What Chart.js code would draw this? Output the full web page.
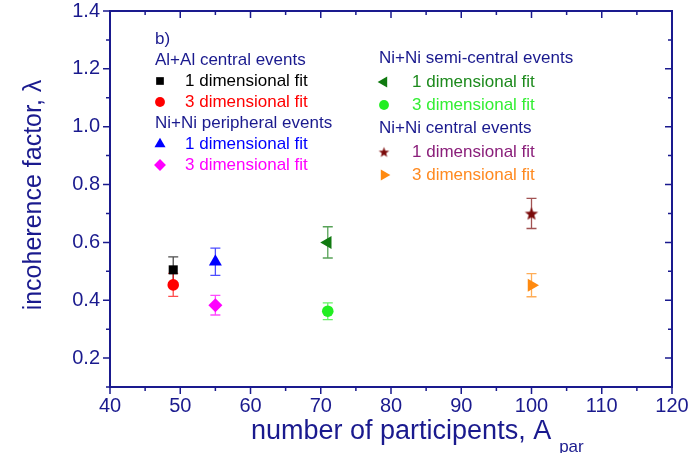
<!DOCTYPE html>
<html>
<head>
<meta charset="utf-8">
<script src="https://cdn.jsdelivr.net/npm/chart.js@4.4.0/dist/chart.umd.min.js"></script>
<style>
  html, body { margin: 0; padding: 0; background: #fff; }
  #wrap { width: 688px; height: 453px; }
</style>
</head>
<body>
<div id="wrap"><canvas id="lambdaChart" width="688" height="453"></canvas></div>
<script>
// data
const groupNames = ['Al+Al central events', 'Ni+Ni peripheral events', 'Ni+Ni semi-central events', 'Ni+Ni central events'];
const seriesNames = ['1 dimensional fit', '3 dimensional fit', '1 dimensional fit', '3 dimensional fit',
                     '1 dimensional fit', '3 dimensional fit', '1 dimensional fit', '3 dimensional fit'];
const seriesGroup = [0, 0, 1, 1, 2, 2, 3, 3];
const aPart = [49, 49, 55, 55, 71, 71, 100, 100];
const lambda = [0.505, 0.453, 0.533, 0.383, 0.60, 0.362, 0.70, 0.452];
const lambdaErr = [0.045, 0.04, 0.047, 0.034, 0.054, 0.029, 0.052, 0.04];
const xTicks = [40, 50, 60, 70, 80, 90, 100, 110, 120];
const yTicks = [0.2, 0.4, 0.6, 0.8, 1.0, 1.2, 1.4];

// styles
const NAVY = '#1a1a8e';
const FONT = '"Liberation Sans", Arial, sans-serif';
const markerColors = ['#000000', '#ff0000', '#0000ff', '#ff00ff', '#107a10', '#22ee22', '#7a0a0a', '#ff8a10'];
const labelColors = ['#000000', '#ff0000', '#0000ff', '#ff00ff', '#1d8a1d', '#33ee33', '#8a1f7a', '#ff8a20'];

function makeStar(color, r) {
  const c = document.createElement('canvas');
  c.width = c.height = Math.ceil(r * 2 + 2);
  const g = c.getContext('2d');
  const cx = c.width / 2, cy = c.height / 2 + r * 0.1;
  g.beginPath();
  for (let k = 0; k < 10; k++) {
    const rad = k % 2 === 0 ? r : r * 0.42;
    const a = -Math.PI / 2 + k * Math.PI / 5;
    g.lineTo(cx + rad * Math.cos(a), cy + rad * Math.sin(a));
  }
  g.closePath();
  g.fillStyle = color;
  g.fill();
  return c;
}

const pointStyles = ['rect', 'circle', 'triangle', 'rectRot', 'triangle', 'circle', makeStar(markerColors[6], 7), 'triangle'];
const legendStyles = pointStyles.map((s, i) => (i === 6 ? makeStar(markerColors[6], 5.5) : s));
const pointRotations = [0, 0, 0, 0, -90, 0, 0, 90];
const pointRadii = [6.4, 5.8, 7.5, 7, 7.5, 5.8, 7.5, 7.5];

const datasets = aPart.map((a, i) => ({
  label: groupNames[seriesGroup[i]] + ' ' + seriesNames[i],
  data: [{ x: a, y: lambda[i] }],
  pointStyle: pointStyles[i],
  rotation: pointRotations[i],
  pointRadius: pointRadii[i],
  backgroundColor: markerColors[i],
  borderColor: markerColors[i],
  borderWidth: 0
}));

const errorBars = {
  id: 'errorBars',
  beforeDatasetsDraw(chart) {
    const { ctx, scales: { x, y } } = chart;
    ctx.save();
    ctx.lineWidth = 1.3;
    aPart.forEach((a, i) => {
      const px = x.getPixelForValue(a);
      const top = y.getPixelForValue(lambda[i] + lambdaErr[i]);
      const bot = y.getPixelForValue(lambda[i] - lambdaErr[i]);
      ctx.strokeStyle = markerColors[i];
      ctx.globalAlpha = 0.7;
      ctx.beginPath();
      ctx.moveTo(px, top); ctx.lineTo(px, bot);
      ctx.moveTo(px - 5, top); ctx.lineTo(px + 5, top);
      ctx.moveTo(px - 5, bot); ctx.lineTo(px + 5, bot);
      ctx.stroke();
    });
    ctx.restore();
  }
};

const frameTicks = {
  id: 'frameTicks',
  afterDraw(chart) {
    const { ctx, chartArea: ca, scales: { x, y } } = chart;
    ctx.save();
    ctx.strokeStyle = NAVY;
    ctx.lineWidth = 2;
    ctx.strokeRect(ca.left, ca.top, ca.right - ca.left, ca.bottom - ca.top);
    ctx.lineWidth = 1.5;
    ctx.beginPath();
    const xMinor = xTicks.slice(1).map((v, k) => (v + xTicks[k]) / 2);
    const yMinor = yTicks.map(v => v - 0.1);
    const tickX = (v, len) => {
      const px = x.getPixelForValue(v);
      ctx.moveTo(px, ca.bottom); ctx.lineTo(px, ca.bottom + len);
      ctx.moveTo(px, ca.top); ctx.lineTo(px, ca.top + len);
    };
    const tickY = (v, len) => {
      const py = y.getPixelForValue(v);
      ctx.moveTo(ca.left, py); ctx.lineTo(ca.left - len, py);
      ctx.moveTo(ca.right, py); ctx.lineTo(ca.right - len, py);
    };
    xTicks.forEach(v => tickX(v, 7));
    xMinor.forEach(v => tickX(v, 4));
    yTicks.forEach(v => tickY(v, 7));
    yMinor.forEach(v => tickY(v, 4));
    ctx.stroke();

    // axis titles
    ctx.fillStyle = NAVY;
    ctx.font = '25px ' + FONT;
    ctx.save();
    ctx.translate(41, 195);
    ctx.rotate(-Math.PI / 2);
    ctx.textAlign = 'center';
    ctx.textBaseline = 'alphabetic';
    ctx.fillText('incoherence factor, \u03bb', 0, 0);
    ctx.restore();

    ctx.font = '27px ' + FONT;
    ctx.textAlign = 'left';
    ctx.textBaseline = 'alphabetic';
    const main = 'number of participents, A';
    ctx.fillText(main, 251, 439);
    const w = ctx.measureText(main).width;
    ctx.font = '17px ' + FONT;
    ctx.fillText('par', 251 + w + 8, 452);
    ctx.restore();
  }
};

function legendMarker(ctx, i, px, py) {
  ctx.fillStyle = markerColors[i];
  if (Chart.helpers && Chart.helpers.drawPoint) {
    Chart.helpers.drawPoint(ctx, {
      pointStyle: legendStyles[i], rotation: pointRotations[i],
      radius: pointRadii[i] * 0.85, borderWidth: 0
    }, px, py);
  } else {
    ctx.beginPath(); ctx.arc(px, py, 5, 0, Math.PI * 2); ctx.fill();
  }
}

const groupLegend = {
  id: 'groupLegend',
  afterDraw(chart) {
    const ctx = chart.ctx;
    ctx.save();
    ctx.font = '17px ' + FONT;
    ctx.textBaseline = 'middle';
    ctx.textAlign = 'left';
    ctx.fillStyle = NAVY;
    ctx.fillText('b)', 155, 39);
    const cols = [
      { head: 155, sym: 160, text: 185, rows: [60, 81, 102, 123, 144, 165], groups: [0, 1] },
      { head: 379, sym: 384, text: 412, rows: [58, 82, 105, 128, 152, 175], groups: [2, 3] }
    ];
    cols.forEach(col => {
      let r = 0;
      col.groups.forEach(g => {
        ctx.fillStyle = NAVY;
        ctx.fillText(groupNames[g], col.head, col.rows[r++]);
        seriesGroup.forEach((sg, i) => {
          if (sg !== g) return;
          const py = col.rows[r++];
          legendMarker(ctx, i, col.sym, py);
          ctx.fillStyle = labelColors[i];
          ctx.fillText(seriesNames[i], col.text, py);
        });
      });
    });
    ctx.restore();
  }
};

new Chart(document.getElementById('lambdaChart'), {
  type: 'scatter',
  data: { datasets },
  options: {
    responsive: false,
    animation: false,
    layout: { padding: { top: 11, right: 16, left: 0, bottom: 0 } },
    plugins: { legend: { display: false }, tooltip: { enabled: false } },
    scales: {
      x: {
        type: 'linear', min: 40, max: 120,
        afterFit(s) { s.height = 66; s.paddingLeft = 0; s.paddingRight = 0; },
        afterBuildTicks(s) { s.ticks = xTicks.map(v => ({ value: v })); },
        grid: { display: false, drawTicks: false },
        border: { display: false },
        ticks: { color: NAVY, font: { family: FONT, size: 20, lineHeight: 1 }, padding: 9, maxRotation: 0, autoSkip: false,
                 callback: v => String(v) }
      },
      y: {
        type: 'linear', min: 0.1, max: 1.4,
        afterFit(s) { s.width = 110; s.paddingTop = 0; s.paddingBottom = 0; },
        afterBuildTicks(s) { s.ticks = yTicks.map(v => ({ value: v })); },
        grid: { display: false, drawTicks: false },
        border: { display: false },
        ticks: { color: NAVY, font: { family: FONT, size: 20, lineHeight: 1 }, padding: 10, autoSkip: false,
                 callback: v => v.toFixed(1) }
      }
    }
  },
  plugins: [errorBars, frameTicks, groupLegend]
});
</script>
</body>
</html>
